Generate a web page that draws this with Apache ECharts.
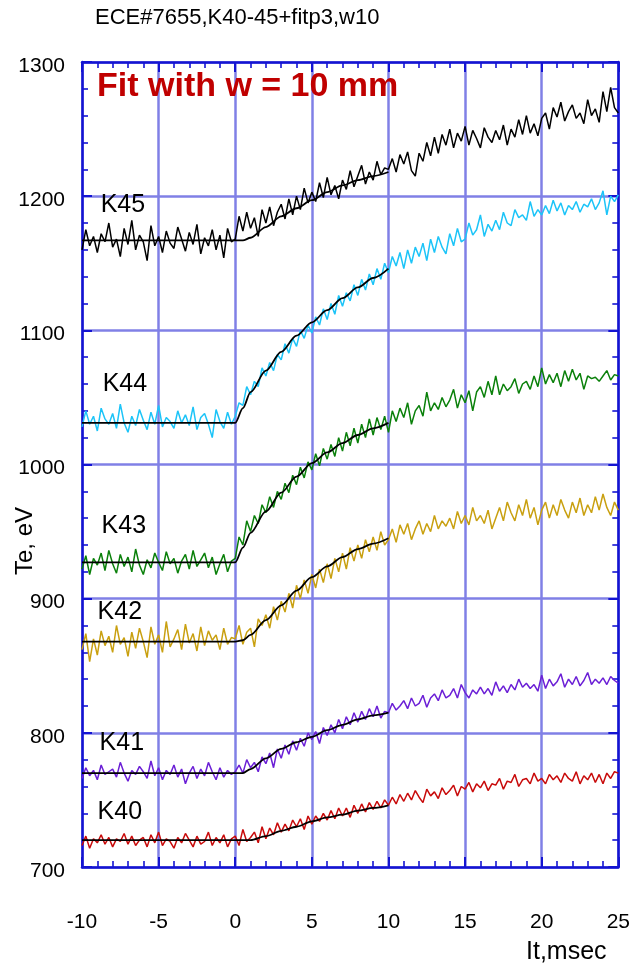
<!DOCTYPE html>
<html>
<head>
<meta charset="utf-8">
<script src="https://cdn.jsdelivr.net/npm/echarts@6/dist/echarts.min.js"></script>
<style>
html,body{margin:0;padding:0;background:#fff;}
#chart{width:633px;height:968px;}
</style>
</head>
<body>
<div id="chart"></div>
<script>
// ---- data ----
var titleText = 'ECE#7655,K40-45+fitp3,w10';
var noteText = 'Fit with w = 10 mm';
var xTickLabels = [-10, -5, 0, 5, 10, 15, 20, 25];
var yTickLabels = [700, 800, 900, 1000, 1100, 1200, 1300];
var channels = ['K45', 'K44', 'K43', 'K42', 'K41', 'K40'];

// measured samples every 0.25 ms from -10 to 25 ms
var tStart = -10, tStep = 0.25;

var K45 = [
1160,1175,1163,1170, 1158,1172,1166,1180, 1162,1168,1155,1176, 1164,1182,1160,1171,
1166,1152,1178,1163, 1170,1158,1174,1165, 1161,1177,1168,1159, 1173,1164,1179,1157,
1169,1163,1175,1160, 1171,1154,1176,1166,
1168,1185,1174,1188, 1176,1184,1170,1190, 1180,1192,1178,1188, 1194,1183,1198,1186,
1200,1190,1206,1195, 1203,1196,1210,1199, 1214,1201,1208,1198, 1212,1205,1219,1207,
1215,1223,1209,1218, 1212,1226,1216,1221, 1220,1228,1218,1231, 1224,1233,1219,1215,
1232,1226,1240,1230, 1244,1232,1246,1238, 1250,1236,1247,1241, 1252,1238,1249,1243,
1236,1251,1244,1240, 1249,1242,1253,1238, 1250,1244,1257,1246, 1260,1247,1254,1245,
1258,1262,1250,1266, 1259,1270,1256,1263, 1268,1258,1262,1254, 1272,1260,1265,1255,
1278,1263,1281,1266, 1262];

var K44 = [
1028,1040,1030,1036, 1025,1042,1034,1030, 1038,1027,1045,1031, 1024,1036,1029,1041,
1033,1026,1039,1030, 1044,1028,1035,1032, 1027,1040,1031,1037, 1029,1043,1026,1035,
1038,1030,1020,1041, 1032,1027,1039,1030,
1036,1046,1044,1058, 1052,1062,1058,1072, 1066,1076,1070,1082, 1078,1090,1083,1094,
1088,1100,1094,1104, 1098,1110,1104,1116, 1108,1120,1112,1126, 1118,1128,1122,1134,
1126,1138,1130,1142, 1134,1146,1138,1150, 1143,1155,1148,1158, 1146,1160,1150,1162,
1155,1165,1152,1168, 1158,1170,1162,1157, 1172,1163,1176,1166, 1168,1180,1171,1175,
1186,1170,1179,1174, 1182,1175,1188,1180, 1178,1190,1184,1186, 1182,1196,1185,1190,
1186,1193,1187,1197, 1189,1195,1186,1193, 1190,1196,1188,1194, 1192,1198,1190,1195,
1204,1186,1200,1196, 1201];

var K43 = [
922,932,918,930, 925,934,921,936, 926,919,933,924, 931,920,937,925,
918,929,923,934, 927,921,935,926, 930,919,928,933, 922,936,924,929,
934,923,931,918, 926,933,920,928,
930,946,940,958, 950,962,956,970, 964,976,968,980, 974,986,979,992,
985,998,990,1002, 996,1008,999,1012, 1004,1015,1006,1020, 1010,1024,1014,1027,
1016,1030,1020,1034, 1022,1035,1026,1036, 1024,1040,1032,1042, 1035,1046,1030,1040,
1044,1036,1054,1040, 1046,1041,1050,1043, 1048,1056,1042,1052, 1046,1055,1040,1054,
1058,1050,1062,1052, 1066,1052,1060,1055, 1058,1064,1053,1060, 1062,1056,1066,1058,
1072,1060,1067,1061, 1068,1058,1070,1062, 1071,1063,1068,1056, 1066,1064,1065,1062,
1066,1070,1063,1067, 1066];

var K42 = [
862,874,853,870, 858,876,865,872, 860,880,866,871, 857,875,863,878,
868,856,879,866, 873,860,883,864, 870,877,862,881, 867,874,861,879,
865,876,869,873, 862,878,866,871,
870,880,866,875, 878,864,885,880, 888,878,894,884, 898,890,904,893,
910,900,914,904, 918,908,922,912, 926,915,930,920, 934,922,938,928,
940,930,944,935, 946,936,950,940, 944,952,942,955, 948,956,944,952,
958,948,956,950, 962,952,958,954, 960,952,965,956, 962,955,968,958,
962,956,966,952, 960,968,958,972, 964,958,970,962, 974,960,968,955,
966,972,960,970, 962,974,966,960, 972,964,975,962, 970,964,976,966,
978,968,962,972, 966];

var K41 = [
766,774,768,772, 765,776,769,771, 773,767,778,770, 764,772,769,775,
771,766,779,768, 774,765,772,769, 776,767,773,762, 770,775,766,773,
768,778,771,765, 774,767,772,769,
771,776,770,780, 774,778,771,782, 777,785,774,788, 781,791,784,794,
787,796,790,800, 795,801,792,804, 798,806,800,810, 803,812,806,815,
808,816,810,818, 812,820,811,816, 815,822,817,820, 824,818,826,820,
822,828,819,826, 829,824,832,826, 828,833,826,836, 830,826,832,829,
834,829,833,828, 838,831,835,830, 836,832,840,834, 837,833,836,831,
843,833,840,835, 838,844,834,840, 836,842,835,839, 845,836,840,837,
841,836,842,839, 837];

var K40 = [
716,723,714,721, 718,724,717,722, 715,721,719,725, 717,723,716,720,
722,715,724,718, 726,716,721,719, 714,722,718,725, 720,715,723,717,
719,726,716,722, 718,724,715,721,
723,716,728,719, 722,726,718,730, 721,729,724,733, 726,732,727,735,
730,736,728,738, 732,738,734,740, 735,742,736,744, 738,744,737,746,
740,747,741,748, 743,749,744,750, 746,752,747,754, 749,755,750,757,
752,748,758,753, 756,751,759,754, 757,761,753,760, 758,763,756,762,
759,764,757,762, 761,766,758,764, 763,769,760,765, 766,762,770,764,
766,762,769,765, 768,763,770,766, 764,771,762,768, 765,770,763,769,
762,770,766,771, 770];

// fitted curves
var fitT   = [-10, 0, 0.5, 1, 2, 3, 4, 5, 6, 7, 8, 9, 10];
var fitK45 = [1167,1167,1167,1169,1177,1185,1191,1197,1203,1208,1212,1215,1218];
var fitK44 = [1031,1031,1042,1054,1070,1084,1096,1106,1115,1124,1132,1139,1146];
var fitK43 = [927,927,938,949,965,979,991,1001,1009,1016,1022,1027,1031];
var fitK42 = [868,868,869,873,884,895,906,916,924,931,937,941,945];
var fitK41 = [770,770,770,773,781,788,793,797,802,806,810,813,815];
var fitK40 = [720,720,720,720,723,727,730,734,737,739,742,744,746];

// label centre positions in data units (t, Te)
var labelT  = [-7.33, -7.2, -7.27, -7.53, -7.4, -7.53];
var labelTe = [1193, 1060, 954, 890, 792, 741];

// ---- build ----
var FONT = 'Liberation Sans, Arial, Helvetica, sans-serif';
var dataSets = [K45, K44, K43, K42, K41, K40];
var fitSets = [fitK45, fitK44, fitK43, fitK42, fitK41, fitK40];
var colors = ['#000000', '#1cc4f8', '#0a800a', '#c9a010', '#6b1fd6', '#c80a0a'];
var AX = '#1414d2';
var GRIDC = '#8080e6';

function pairs(tArr, vArr) {
  var out = [];
  for (var i = 0; i < vArr.length; i++) out.push([tArr ? tArr[i] : tStart + i * tStep, vArr[i]]);
  return out;
}

var series = [];
for (var k = 0; k < dataSets.length; k++) {
  series.push({
    name: channels[k], type: 'line', data: pairs(null, dataSets[k]),
    showSymbol: false, symbol: 'none', lineStyle: {color: colors[k], width: 1.5},
    z: 3, silent: true
  });
}
for (var k2 = 0; k2 < fitSets.length; k2++) {
  series.push({
    name: channels[k2] + ' fit', type: 'line', data: pairs(fitT, fitSets[k2]),
    showSymbol: false, symbol: 'none', smooth: 0.3, smoothMonotone: 'x',
    lineStyle: {color: '#000', width: 1.8}, z: 4, silent: true
  });
}

function xAxisDef(pos, showLabel) {
  return {
    type: 'value', position: pos, min: -10, max: 25, interval: 5,
    axisLine: {show: true, onZero: false, lineStyle: {color: AX, width: 2.5}},
    axisTick: {show: true, inside: true, length: 10, lineStyle: {color: AX, width: 2}},
    minorTick: {show: true, splitNumber: 5, length: 6, lineStyle: {color: AX, width: 1.6}},
    splitLine: {show: showLabel, lineStyle: {color: GRIDC, width: 2.5}},
    axisLabel: {show: showLabel, fontSize: 21, color: '#000', fontFamily: FONT, margin: 45,
      formatter: function (v) { return xTickLabels.indexOf(v) >= 0 ? String(v) : ''; }}
  };
}
function yAxisDef(pos, showLabel) {
  return {
    type: 'value', position: pos, min: 700, max: 1300, interval: 100,
    axisLine: {show: true, onZero: false, lineStyle: {color: AX, width: 2.5}},
    axisTick: {show: true, inside: true, length: 10, lineStyle: {color: AX, width: 2}},
    minorTick: {show: true, splitNumber: 5, length: 6, lineStyle: {color: AX, width: 1.6}},
    splitLine: {show: showLabel, lineStyle: {color: GRIDC, width: 2.5}},
    axisLabel: {show: showLabel, fontSize: 21, color: '#000', fontFamily: FONT, margin: 17,
      formatter: function (v) { return yTickLabels.indexOf(v) >= 0 ? '{v|' + v + '}' : ''; },
      rich: {v: {fontSize: 21, fontFamily: FONT, color: '#000', padding: [8, 0, 0, 0]}}}
  };
}

var chart = echarts.init(document.getElementById('chart'), null, {renderer: 'canvas'});
var graphics = [
  {type: 'text', left: 95, top: 7, style: {text: titleText, fontSize: 22, fontFamily: FONT, fill: '#000'}},
  {type: 'text', left: 97, top: 70, z: 10, style: {text: noteText, fontSize: 34, fontWeight: 'bold', fontFamily: FONT, fill: '#c00000'}},
  {type: 'text', left: 526, top: 940, style: {text: 'It,msec', fontSize: 25, fontFamily: FONT, fill: '#000'}},
  {type: 'text', x: 25, y: 541, rotation: Math.PI / 2,
    style: {text: 'Te, eV', fontSize: 24, fontFamily: FONT, fill: '#000', align: 'center', verticalAlign: 'middle'}}
];
chart.setOption({
  animation: false,
  backgroundColor: '#fff',
  grid: {left: 82, right: 13, top: 62, bottom: 101, containLabel: false},
  xAxis: [xAxisDef('bottom', true), xAxisDef('top', false)],
  yAxis: [yAxisDef('left', true), yAxisDef('right', false)],
  series: series,
  graphic: graphics
});
// channel labels placed through the axes' scales
for (var j = 0; j < channels.length; j++) {
  var p = chart.convertToPixel({gridIndex: 0}, [labelT[j], labelTe[j]]);
  graphics.push({type: 'text', x: p[0], y: p[1], z: 10,
    style: {text: channels[j], fontSize: 25, fontFamily: FONT, fill: '#000', align: 'center', verticalAlign: 'middle'}});
}
chart.setOption({graphic: graphics});
</script>
</body>
</html>
